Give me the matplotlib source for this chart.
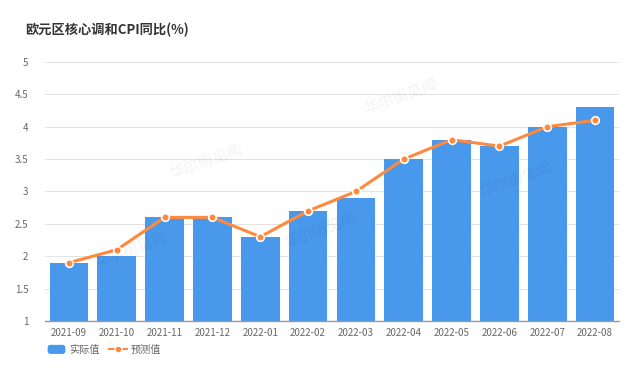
import matplotlib
matplotlib.use("Agg")
import matplotlib.pyplot as plt
from matplotlib.patches import FancyBboxPatch
from matplotlib.lines import Line2D
from matplotlib.legend_handler import HandlerPatch

plt.rcParams["font.family"] = ["Noto Sans CJK SC", "DejaVu Sans"]

MONTHS = ["2021-09", "2021-10", "2021-11", "2021-12", "2022-01", "2022-02",
          "2022-03", "2022-04", "2022-05", "2022-06", "2022-07", "2022-08"]
ACTUAL = [1.9, 2.0, 2.6, 2.6, 2.3, 2.7, 2.9, 3.5, 3.8, 3.7, 4.0, 4.3]
FORECAST = [1.9, 2.1, 2.6, 2.6, 2.3, 2.7, 3.0, 3.5, 3.8, 3.7, 4.0, 4.1]
Y_TICKS = [1, 1.5, 2, 2.5, 3, 3.5, 4, 4.5, 5]

BAR_COLOR = "#4898ec"
LINE_COLOR = "#ff8a3d"
GRID_COLOR = "#e3e3e3"
TEXT_COLOR = "#666666"

fig = plt.figure(figsize=(6.41, 3.69), dpi=100)
ax = fig.add_axes([0.0702, 0.1301, 0.8955, 0.7019])

x = range(len(MONTHS))
ax.bar(x, ACTUAL, width=0.81, color=BAR_COLOR, zorder=2, label="实际值")
ax.plot(x, FORECAST, color=LINE_COLOR, lw=2.2, zorder=3,
        marker="o", markersize=5.5, markerfacecolor=LINE_COLOR,
        markeredgecolor="white", markeredgewidth=1.2, label="预测值")

ax.set_xlim(-0.5, len(MONTHS) - 0.5)
ax.set_ylim(1, 5)
ax.set_yticks(Y_TICKS)
ax.set_yticklabels([f"{v:g}" for v in Y_TICKS])
ax.set_xticks(list(x))
ax.set_xticklabels(MONTHS)
ax.grid(axis="y", color=GRID_COLOR, lw=0.8, zorder=0)
for side in ("top", "right", "left"):
    ax.spines[side].set_visible(False)
ax.spines["bottom"].set_color("#999999")
ax.spines["bottom"].set_linewidth(1)
ax.tick_params(axis="y", length=0, pad=12, labelsize=7, labelcolor=TEXT_COLOR)
ax.tick_params(axis="x", length=0, pad=5, labelsize=7, labelcolor=TEXT_COLOR)

# faint watermark
for wx, wy in [(0.28, 0.62), (0.62, 0.87), (0.15, 0.28), (0.48, 0.35), (0.82, 0.55)]:
    ax.text(wx, wy, "华尔街见闻", transform=ax.transAxes, fontsize=11,
            color="#000000", alpha=0.04, rotation=20, fontweight="bold",
            ha="center", va="center", zorder=4)

fig.text(0.039, 0.918, "欧元区核心调和CPI同比(%)", fontsize=9.5,
         fontweight="bold", color="#333333", va="center", ha="left")


class RoundRectHandler(HandlerPatch):
    def create_artists(self, legend, orig_handle, xdescent, ydescent,
                       width, height, fontsize, trans):
        p = FancyBboxPatch((-xdescent, -ydescent), width, height,
                           boxstyle="round,pad=0,rounding_size=2",
                           facecolor=BAR_COLOR, edgecolor="none",
                           transform=trans)
        return [p]


bar_handle = plt.Rectangle((0, 0), 1, 1, color=BAR_COLOR)
line_handle = Line2D([], [], color=LINE_COLOR, lw=1.5, marker="o",
                     markersize=5, markerfacecolor=LINE_COLOR,
                     markeredgecolor="white", markeredgewidth=1)
leg = fig.legend([bar_handle, line_handle], ["实际值", "预测值"],
                 loc="center left", bbox_to_anchor=(0.068, 0.052),
                 ncol=2, frameon=False, fontsize=7.3, handlelength=1.75,
                 handleheight=1.0, handletextpad=0.4, columnspacing=0.9,
                 borderpad=0.2, borderaxespad=0.2,
                 handler_map={bar_handle: RoundRectHandler()})
for t in leg.get_texts():
    t.set_color(TEXT_COLOR)

fig.savefig("out.png", dpi=100, facecolor="white")
